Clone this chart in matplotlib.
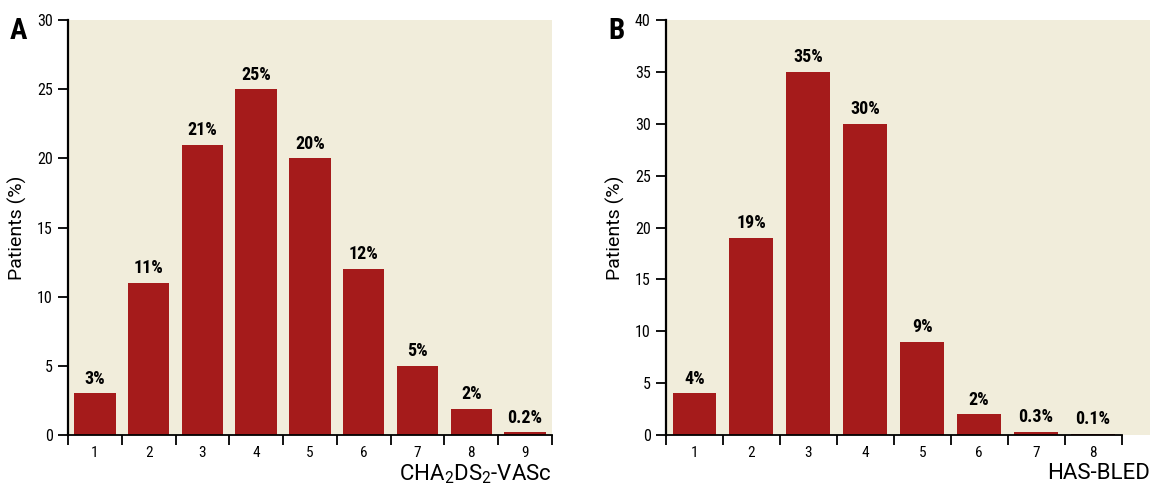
import matplotlib
matplotlib.use("Agg")
import matplotlib.pyplot as plt

plt.rcParams["font.family"] = ["Roboto Condensed", "DejaVu Sans"]
plt.rcParams["font.stretch"] = "condensed"
plt.rcParams["mathtext.fontset"] = "custom"
plt.rcParams["mathtext.rm"] = "Roboto"
plt.rcParams["mathtext.it"] = "Roboto"

# 데이터
cha_scores = [1, 2, 3, 4, 5, 6, 7, 8, 9]
cha_values = [3, 11, 21, 25, 20, 12, 5, 1.9, 0.2]
cha_labels = ["3%", "11%", "21%", "25%", "20%", "12%", "5%", "2%", "0.2%"]

has_scores = [1, 2, 3, 4, 5, 6, 7, 8]
has_values = [4, 19, 35, 30, 9, 2, 0.3, 0.1]
has_labels = ["4%", "19%", "35%", "30%", "9%", "2%", "0.3%", "0.1%"]

BAR_COLOR = "#A51B1B"
BG_COLOR = "#F1EDDB"
LABEL_FONT = ["Roboto", "DejaVu Sans"]


def draw_panel(ax, scores, values, labels, ymax, xlabel, letter, xmax):
    ax.set_facecolor(BG_COLOR)
    ax.bar(scores, values, width=0.77, color=BAR_COLOR, zorder=2)
    for x, v, lab in zip(scores, values, labels):
        ax.annotate(lab, (x, v), xytext=(0, 4), textcoords="offset points",
                    ha="center", va="bottom", fontsize=13, fontweight="bold")

    n = len(scores)
    ax.set_xlim(0.5, xmax)
    ax.set_ylim(0, ymax)

    # 범주 중심에 라벨, 경계에 눈금
    ax.set_xticks(scores)
    ax.set_xticklabels([str(s) for s in scores], fontsize=11)
    ax.set_xticks([i + 0.5 for i in range(n + 1)], minor=True)
    ax.tick_params(axis="x", which="major", length=0, pad=8)
    ax.tick_params(axis="x", which="minor", length=7, width=1.3, direction="out")
    ax.set_yticks(range(0, ymax + 1, 5))
    ax.tick_params(axis="y", length=7, width=1.3, labelsize=11.5, pad=4)

    for s in ["top", "right"]:
        ax.spines[s].set_visible(False)
    ax.spines["left"].set_linewidth(1.6)
    ax.spines["bottom"].set_linewidth(1.3)
    ax.spines["bottom"].set_bounds(0.5, n + 0.5)

    ax.set_ylabel("Patients (%)", fontsize=14, family=LABEL_FONT, stretch="normal")
    ax.yaxis.set_label_coords(-0.085, 0.5)
    ax.set_xlabel(xlabel, fontsize=16, loc="right", labelpad=2,
                  family=LABEL_FONT, stretch="normal")
    ax.text(-0.12, 1.008, letter, transform=ax.transAxes, fontsize=21,
            fontweight="bold", ha="left", va="top")


fig = plt.figure(figsize=(11.5, 4.87), dpi=100)
ax_a = fig.add_axes([0.0591, 0.1068, 0.4209, 0.852])
ax_b = fig.add_axes([0.5791, 0.1068, 0.4209, 0.852])

draw_panel(ax_a, cha_scores, cha_values, cha_labels, 30,
           "CHA$_2$DS$_2$-VASc", "A", 9.5)
draw_panel(ax_b, has_scores, has_values, has_labels, 40,
           "HAS-BLED", "B", 9.0)

fig.savefig("out.png", dpi=100)
